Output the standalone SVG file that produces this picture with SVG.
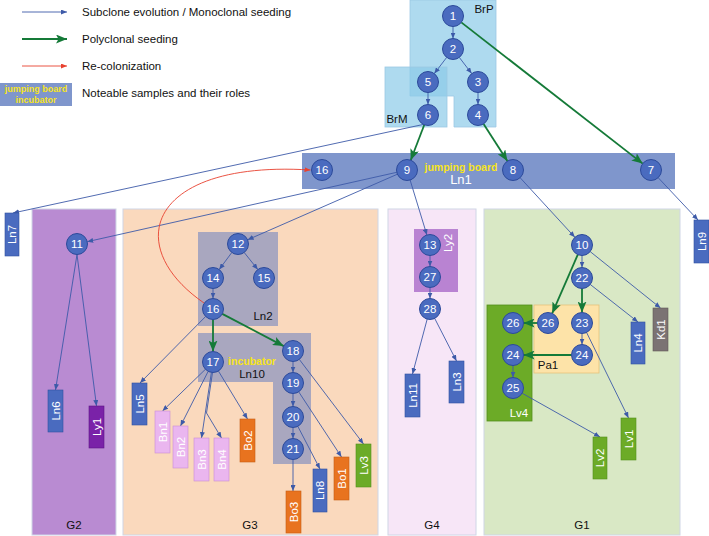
<svg xmlns="http://www.w3.org/2000/svg" width="709" height="536" viewBox="0 0 709 536">
<style>
text{font-family:"Liberation Sans",Arial,sans-serif}
.leg{font-size:11.5px;fill:#111}
.num{font-size:11.5px;fill:#fff;text-anchor:middle}
.node circle{fill:#4a6bbf;stroke:#2c4a9a;stroke-width:1}
.box text{font-size:11.5px;fill:#fff;text-anchor:middle}
.lbl{font-size:11.5px;fill:#111;text-anchor:middle}
.yel{font-weight:bold;fill:#f7e41c;text-anchor:middle}
.b{stroke:#3d5aa8;stroke-width:0.9;fill:none;marker-end:url(#ab)}
.g{stroke:#157a38;stroke-width:1.8;fill:none;marker-end:url(#ag)}
.r{stroke:#e8412f;stroke-width:0.9;fill:none;marker-end:url(#ar)}
.ln{fill:#4a6bbf;stroke:#2f50a0;stroke-width:0.6}
.bn{fill:#eab6ef;stroke:#c98ed4;stroke-width:0.6}
.bo{fill:#e8731f;stroke:#c55f14;stroke-width:0.6}
.lv{fill:#6cab27;stroke:#548f1c;stroke-width:0.6}
.reg{stroke:#cfd6e6;stroke-width:1}
</style>
<defs>
<marker id="ab" viewBox="0 0 6 5" refX="6" refY="2.5" markerWidth="6" markerHeight="5" markerUnits="userSpaceOnUse" orient="auto"><path d="M0,0 L6,2.5 L0,5 z" fill="#3d5aa8"/></marker>
<marker id="ag" viewBox="0 0 11 9" refX="11" refY="4.5" markerWidth="11" markerHeight="9" markerUnits="userSpaceOnUse" orient="auto"><path d="M0,0 L11,4.5 L0,9 L2.5,4.5 z" fill="#157a38"/></marker>
<marker id="ar" viewBox="0 0 6 5" refX="6" refY="2.5" markerWidth="6" markerHeight="5" markerUnits="userSpaceOnUse" orient="auto"><path d="M0,0 L6,2.5 L0,5 z" fill="#e8412f"/></marker>
</defs>
<rect width="709" height="536" fill="#fff"/>

<g id="legend">
<line x1="22" y1="12" x2="67" y2="12" class="b"/>
<text class="leg" x="82" y="16">Subclone evolution / Monoclonal seeding</text>
<line x1="22" y1="39" x2="67" y2="39" class="g"/>
<text class="leg" x="82" y="43">Polyclonal seeding</text>
<line x1="22" y1="66" x2="67" y2="66" class="r"/>
<text class="leg" x="82" y="70">Re-colonization</text>
<rect x="0" y="83" width="72" height="23" fill="#7f96cc"/>
<text class="yel" x="36" y="92" font-size="9">jumping board</text>
<text class="yel" x="36" y="103" font-size="9">incubator</text>
<text class="leg" x="82" y="97">Noteable samples and their roles</text>
</g>

<g id="regions">
<g id="G2"><rect class="reg" x="32" y="209" width="84" height="326" fill="#b98bd2"/><text class="lbl" x="74" y="529">G2</text></g>
<g id="G3"><rect class="reg" x="123" y="209" width="255" height="326" fill="#fad9bd"/><text class="lbl" x="250" y="529">G3</text></g>
<g id="G4"><rect class="reg" x="388" y="209" width="88" height="326" fill="#f7e6f7"/><text class="lbl" x="432" y="529">G4</text></g>
<g id="G1"><rect class="reg" x="484" y="209" width="196" height="326" fill="#d9e8c5"/><text class="lbl" x="582" y="529">G1</text></g>
<g id="BrP"><path d="M410,0 H496 V127 H454 V96 H410 Z" fill="#8ccbe8" fill-opacity="0.7" stroke="#9cc8e4" stroke-width="0.8"/><text class="lbl" x="484" y="13">BrP</text></g>
<g id="BrM"><rect x="385" y="67" width="62" height="60" fill="#8ccbe8" fill-opacity="0.7" stroke="#9cc8e4" stroke-width="0.8"/><text class="lbl" x="397" y="123">BrM</text></g>
<g id="Ln1"><rect x="302" y="153" width="373" height="36" fill="#7f96cc"/><text class="yel" x="461" y="171" font-size="10.5">jumping board</text><text x="461" y="184" font-size="13" fill="#fff" text-anchor="middle">Ln1</text></g>
<g id="Ln2"><rect x="198" y="232" width="80" height="94" fill="#a9a7bf"/><text class="lbl" x="263" y="320" font-size="12.5">Ln2</text></g>
<g id="Ln10"><path d="M198,333 H311 V464 H273 V382 H198 Z" fill="#a9a7bf"/><text class="yel" x="252" y="365" font-size="10.5">incubator</text><text class="lbl" x="252" y="378" font-size="12.5">Ln10</text></g>
<g id="Ly2"><rect x="414" y="229" width="44" height="63" fill="#b983d2"/><text x="0" y="0" transform="translate(452,243) rotate(-90)" font-size="11.5" fill="#fff" text-anchor="middle">Ly2</text></g>
<g id="Pa1"><rect x="534" y="305" width="65" height="68" fill="#fde3a8" stroke="#e5c27a" stroke-width="0.8"/><text class="lbl" x="548" y="369" fill="#333">Pa1</text></g>
<g id="Lv4"><rect x="487" y="305" width="45" height="116" fill="#6cab27" stroke="#548f1c" stroke-width="0.8"/><text x="519" y="417" font-size="11.5" fill="#fff" text-anchor="middle">Lv4</text></g>
</g>

<g id="connectors">
<line class="b" x1="453" y1="26.5" x2="453" y2="38.5"/>
<line class="b" x1="446.7" y1="57.4" x2="434.3" y2="73.6"/>
<line class="b" x1="459.3" y1="57.4" x2="471.7" y2="73.6"/>
<line class="b" x1="428" y1="92.5" x2="428" y2="104.5"/>
<line class="b" x1="478" y1="92.5" x2="478" y2="104.5"/>
<line class="b" x1="423" y1="124.5" x2="13" y2="213"/>
<line class="g" x1="424.3" y1="124.8" x2="410.7" y2="160.2"/>
<line class="g" x1="483.6" y1="123.9" x2="507.4" y2="161.1"/>
<line class="g" x1="461.3" y1="22.4" x2="642.7" y2="163.6"/>
<line class="b" x1="396.8" y1="172.3" x2="87.2" y2="241.7"/>
<line class="b" x1="397.4" y1="174.2" x2="247.6" y2="239.8"/>
<line class="b" x1="410.1" y1="180" x2="426.9" y2="235"/>
<line class="b" x1="520.1" y1="177.7" x2="574.9" y2="237.3"/>
<line class="b" x1="658.2" y1="177.7" x2="698" y2="220"/>
<line class="b" x1="77" y1="254.5" x2="55.5" y2="390"/>
<line class="b" x1="77" y1="254.5" x2="96.5" y2="406"/>
<line class="b" x1="231.8" y1="252.5" x2="219.2" y2="269.5"/>
<line class="b" x1="244.2" y1="252.5" x2="257.8" y2="269.5"/>
<line class="b" x1="213" y1="288.5" x2="213" y2="298.5"/>
<line class="g" x1="213" y1="319.5" x2="213" y2="351.5"/>
<line class="g" x1="222.3" y1="313.9" x2="283.7" y2="346.1"/>
<line class="b" x1="205.6" y1="316.5" x2="140" y2="383"/>
<line class="b" x1="205.4" y1="369.3" x2="162.5" y2="411"/>
<line class="b" x1="208.2" y1="371.3" x2="180.5" y2="426"/>
<line class="b" x1="211.4" y1="372.4" x2="201.5" y2="438"/>
<polyline class="b" points="212.5,372.5 206.5,413 221.5,438"/>
<line class="b" x1="218.4" y1="371" x2="247.5" y2="419"/>
<line class="b" x1="293" y1="361.5" x2="293" y2="372.5"/>
<line class="b" x1="293" y1="393.5" x2="293" y2="406.5"/>
<line class="b" x1="293" y1="427.5" x2="293" y2="438.5"/>
<line class="b" x1="299.3" y1="359.4" x2="363.5" y2="444"/>
<line class="b" x1="298.7" y1="391.8" x2="341.5" y2="457"/>
<line class="b" x1="297.8" y1="426.3" x2="320" y2="469"/>
<line class="b" x1="293" y1="459.5" x2="293" y2="491"/>
<line class="b" x1="430" y1="255.5" x2="430" y2="266.5"/>
<line class="b" x1="430" y1="287.5" x2="430" y2="298.5"/>
<line class="b" x1="427.2" y1="319.1" x2="412.5" y2="374"/>
<line class="b" x1="434.7" y1="318.4" x2="456.5" y2="361"/>
<line class="b" x1="582" y1="255.5" x2="582" y2="267.5"/>
<line class="g" x1="577.8" y1="254.6" x2="552.2" y2="313.4"/>
<line class="g" x1="582" y1="288.5" x2="582" y2="312.5"/>
<line class="b" x1="590.2" y1="251.6" x2="660.5" y2="308"/>
<line class="b" x1="590.3" y1="284.5" x2="638" y2="322"/>
<line class="b" x1="582" y1="333.5" x2="582" y2="344.5"/>
<line class="b" x1="586.6" y1="332.5" x2="628.5" y2="418"/>
<line class="g" x1="537.5" y1="323" x2="523.5" y2="323"/>
<line class="g" x1="571.5" y1="355" x2="523.5" y2="355"/>
<line class="b" x1="513" y1="365.5" x2="513" y2="377.5"/>
<line class="b" x1="522.1" y1="393.2" x2="600" y2="437"/>
<path class="r" d="M204,303 C120,245 150,160 310.5,170"/>
</g>

<g id="nodes">
<g id="n1" class="node"><circle cx="453" cy="16" r="10.5"/><text class="num" x="453" y="20">1</text></g>
<g id="n2" class="node"><circle cx="453" cy="49" r="10.5"/><text class="num" x="453" y="53">2</text></g>
<g id="n5" class="node"><circle cx="428" cy="82" r="10.5"/><text class="num" x="428" y="86">5</text></g>
<g id="n3" class="node"><circle cx="478" cy="82" r="10.5"/><text class="num" x="478" y="86">3</text></g>
<g id="n6" class="node"><circle cx="428" cy="115" r="10.5"/><text class="num" x="428" y="119">6</text></g>
<g id="n4" class="node"><circle cx="478" cy="115" r="10.5"/><text class="num" x="478" y="119">4</text></g>
<g id="n16-ln1" class="node"><circle cx="322" cy="170" r="10.5"/><text class="num" x="322" y="174">16</text></g>
<g id="n9" class="node"><circle cx="407" cy="170" r="10.5"/><text class="num" x="407" y="174">9</text></g>
<g id="n8" class="node"><circle cx="513" cy="170" r="10.5"/><text class="num" x="513" y="174">8</text></g>
<g id="n7" class="node"><circle cx="651" cy="170" r="10.5"/><text class="num" x="651" y="174">7</text></g>
<g id="n11" class="node"><circle cx="77" cy="244" r="10.5"/><text class="num" x="77" y="248">11</text></g>
<g id="n12" class="node"><circle cx="238" cy="244" r="10.5"/><text class="num" x="238" y="248">12</text></g>
<g id="n14" class="node"><circle cx="213" cy="278" r="10.5"/><text class="num" x="213" y="282">14</text></g>
<g id="n15" class="node"><circle cx="264" cy="278" r="10.5"/><text class="num" x="264" y="282">15</text></g>
<g id="n16-ln2" class="node"><circle cx="213" cy="309" r="10.5"/><text class="num" x="213" y="313">16</text></g>
<g id="n17" class="node"><circle cx="213" cy="362" r="10.5"/><text class="num" x="213" y="366">17</text></g>
<g id="n18" class="node"><circle cx="293" cy="351" r="10.5"/><text class="num" x="293" y="355">18</text></g>
<g id="n19" class="node"><circle cx="293" cy="383" r="10.5"/><text class="num" x="293" y="387">19</text></g>
<g id="n20" class="node"><circle cx="293" cy="417" r="10.5"/><text class="num" x="293" y="421">20</text></g>
<g id="n21" class="node"><circle cx="293" cy="449" r="10.5"/><text class="num" x="293" y="453">21</text></g>
<g id="n13" class="node"><circle cx="430" cy="245" r="10.5"/><text class="num" x="430" y="249">13</text></g>
<g id="n27" class="node"><circle cx="430" cy="277" r="10.5"/><text class="num" x="430" y="281">27</text></g>
<g id="n28" class="node"><circle cx="430" cy="309" r="10.5"/><text class="num" x="430" y="313">28</text></g>
<g id="n10" class="node"><circle cx="582" cy="245" r="10.5"/><text class="num" x="582" y="249">10</text></g>
<g id="n22" class="node"><circle cx="582" cy="278" r="10.5"/><text class="num" x="582" y="282">22</text></g>
<g id="n26-pa1" class="node"><circle cx="548" cy="323" r="10.5"/><text class="num" x="548" y="327">26</text></g>
<g id="n23" class="node"><circle cx="582" cy="323" r="10.5"/><text class="num" x="582" y="327">23</text></g>
<g id="n24-pa1" class="node"><circle cx="582" cy="355" r="10.5"/><text class="num" x="582" y="359">24</text></g>
<g id="n26-lv4" class="node"><circle cx="513" cy="323" r="10.5"/><text class="num" x="513" y="327">26</text></g>
<g id="n24-lv4" class="node"><circle cx="513" cy="355" r="10.5"/><text class="num" x="513" y="359">24</text></g>
<g id="n25" class="node"><circle cx="513" cy="388" r="10.5"/><text class="num" x="513" y="392">25</text></g>
</g>

<g id="samples">
<g id="s-Ln7" class="box"><rect class="ln" x="5" y="213" width="14" height="43"/><text transform="translate(12,234.5) rotate(-90)" y="4">Ln7</text></g>
<g id="s-Ln9" class="box"><rect class="ln" x="694" y="220" width="15" height="43"/><text transform="translate(701.5,241.5) rotate(-90)" y="4">Ln9</text></g>
<g id="s-Ln6" class="box"><rect class="ln" x="48" y="390" width="15" height="42"/><text transform="translate(55.5,411) rotate(-90)" y="4">Ln6</text></g>
<g id="s-Ly1" class="box"><rect x="89" y="406" width="15" height="42" fill="#7a22a8" stroke="#5e1585" stroke-width="0.6"/><text transform="translate(96.5,427) rotate(-90)" y="4">Ly1</text></g>
<g id="s-Ln5" class="box"><rect class="ln" x="132" y="383" width="15" height="42"/><text transform="translate(139.5,404) rotate(-90)" y="4">Ln5</text></g>
<g id="s-Bn1" class="box"><rect class="bn" x="155" y="411" width="15" height="42"/><text transform="translate(162.5,432) rotate(-90)" y="4">Bn1</text></g>
<g id="s-Bn2" class="box"><rect class="bn" x="173" y="426" width="15" height="42"/><text transform="translate(180.5,447) rotate(-90)" y="4">Bn2</text></g>
<g id="s-Bn3" class="box"><rect class="bn" x="194" y="438" width="15" height="43"/><text transform="translate(201.5,459.5) rotate(-90)" y="4">Bn3</text></g>
<g id="s-Bn4" class="box"><rect class="bn" x="214" y="438" width="15" height="43"/><text transform="translate(221.5,459.5) rotate(-90)" y="4">Bn4</text></g>
<g id="s-Bo2" class="box"><rect class="bo" x="240" y="419" width="15" height="43"/><text transform="translate(247.5,440.5) rotate(-90)" y="4">Bo2</text></g>
<g id="s-Bo3" class="box"><rect class="bo" x="286" y="491" width="15" height="42"/><text transform="translate(293.5,512) rotate(-90)" y="4">Bo3</text></g>
<g id="s-Ln8" class="box"><rect class="ln" x="313" y="469" width="14" height="43"/><text transform="translate(320,490.5) rotate(-90)" y="4">Ln8</text></g>
<g id="s-Bo1" class="box"><rect class="bo" x="334" y="457" width="15" height="43"/><text transform="translate(341.5,478.5) rotate(-90)" y="4">Bo1</text></g>
<g id="s-Lv3" class="box"><rect class="lv" x="356" y="444" width="15" height="43"/><text transform="translate(363.5,465.5) rotate(-90)" y="4">Lv3</text></g>
<g id="s-Ln11" class="box"><rect class="ln" x="405" y="374" width="15" height="43"/><text transform="translate(412.5,395.5) rotate(-90)" y="4">Ln11</text></g>
<g id="s-Ln3" class="box"><rect class="ln" x="449" y="361" width="15" height="42"/><text transform="translate(456.5,382) rotate(-90)" y="4">Ln3</text></g>
<g id="s-Ln4" class="box"><rect class="ln" x="631" y="322" width="14" height="42"/><text transform="translate(638,343) rotate(-90)" y="4">Ln4</text></g>
<g id="s-Kd1" class="box"><rect x="653" y="308" width="15" height="43" fill="#7b7373" stroke="#615959" stroke-width="0.6"/><text transform="translate(660.5,329.5) rotate(-90)" y="4">Kd1</text></g>
<g id="s-Lv1" class="box"><rect class="lv" x="621" y="418" width="15" height="42"/><text transform="translate(628.5,439) rotate(-90)" y="4">Lv1</text></g>
<g id="s-Lv2" class="box"><rect class="lv" x="593" y="437" width="14" height="42"/><text transform="translate(600,458) rotate(-90)" y="4">Lv2</text></g>
</g>
</svg>
